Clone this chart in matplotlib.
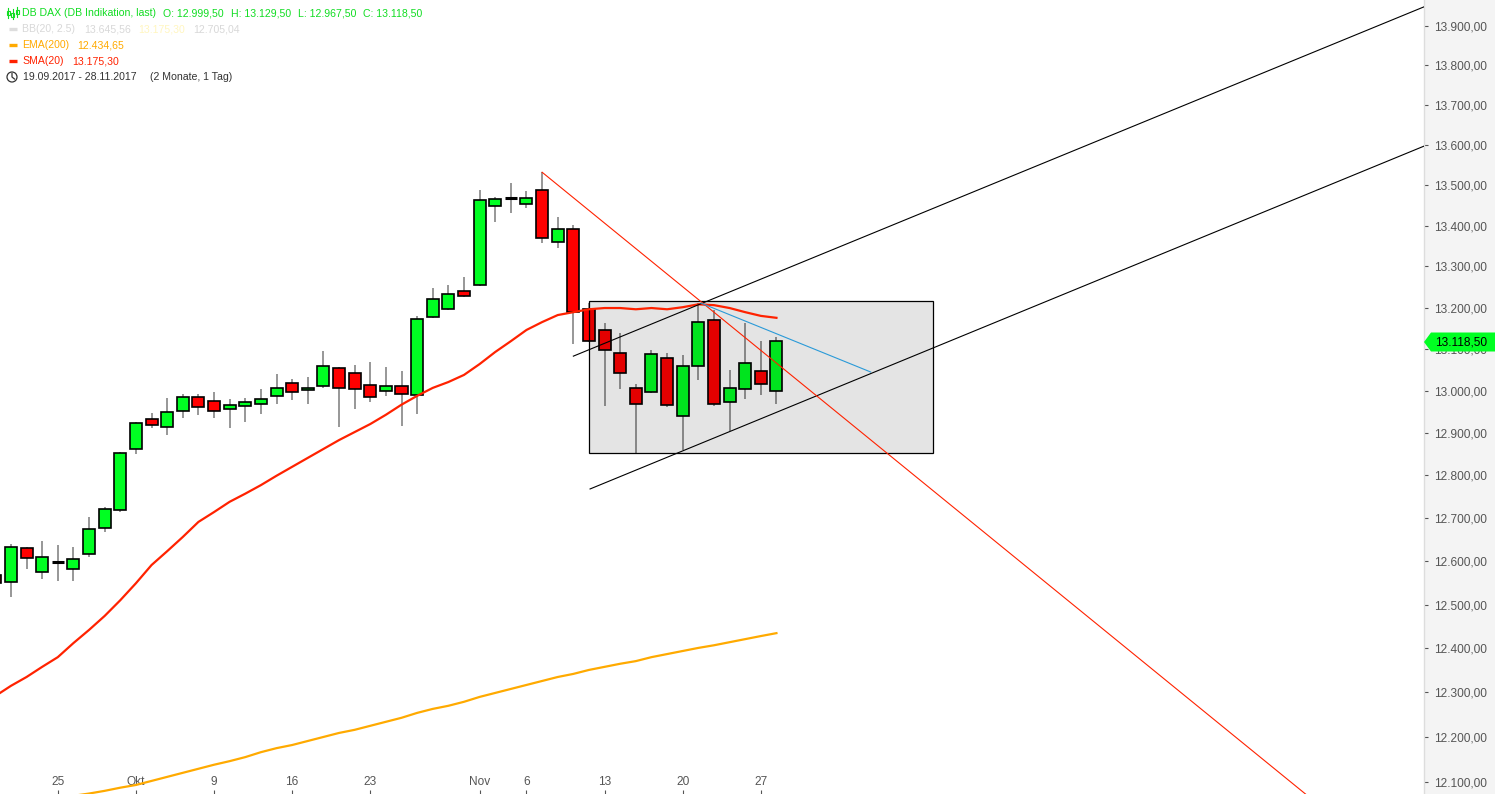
import numpy as np
import pandas as pd
import matplotlib.pyplot as plt
from matplotlib.patches import Rectangle, Polygon, Circle
from matplotlib.lines import Line2D
from matplotlib.ticker import NullLocator, NullFormatter

plt.rcParams['font.family'] = ['Liberation Sans', 'DejaVu Sans']

# --- data (DB DAX daily, 19.09.2017 - 28.11.2017) ---
dates = pd.bdate_range('2017-09-19', '2017-11-28')

opens = [12568, 12552, 12630, 12575, 12598, 12582, 12616, 12677, 12719, 12862,
         12933, 12914, 12952, 12986, 12976, 12957, 12964, 12969, 12988, 13019,
         13002, 13012, 13055, 13043, 13014, 13000, 13012, 12990, 13177, 13196,
         13240, 13255, 13449, 13468, 13454, 13488, 13360, 13392, 13196, 13146,
         13090, 13007, 12998, 13079, 12940, 13060, 13170, 12974, 13005, 13048,
         12999.5]
highs = [12578, 12640, 12633, 12647, 12637, 12633, 12702, 12726, 12855, 12926,
         12948, 12983, 12993, 12993, 12998, 12981, 12983, 13005, 13040, 13029,
         13033, 13095, 13057, 13062, 13069, 13057, 13048, 13180, 13248, 13255,
         13274, 13488, 13471, 13505, 13485, 13532, 13421, 13402, 13212, 13163,
         13139, 13017, 13098, 13090, 13086, 13211, 13194, 13050, 13163, 13120,
         13129.5]
lows = [12540, 12517, 12582, 12559, 12554, 12554, 12609, 12667, 12714, 12851,
        12912, 12895, 12936, 12943, 12936, 12912, 12926, 12945, 12969, 12979,
        12969, 13007, 12914, 12957, 12974, 12988, 12917, 12945, 13175, 13194,
        13226, 13253, 13410, 13432, 13444, 13358, 13346, 13112, 13116, 12964,
        13005, 12853, 12995, 12962, 12860, 13026, 12964, 12905, 12981, 12990,
        12967.5]
closes = [12549, 12633, 12607, 12609, 12598, 12605, 12674, 12721, 12853, 12924,
          12919, 12950, 12986, 12962, 12952, 12967, 12974, 12981, 13007, 12998,
          13007, 13060, 13007, 13005, 12986, 13012, 12993, 13172, 13221, 13233,
          13228, 13463, 13466, 13468, 13468, 13370, 13392, 13189, 13120, 13098,
          13043, 12969, 13088, 12967, 13060, 13165, 12969, 13007, 13067, 13017,
          13118.5]

sma20 = [12292, 12315, 12335, 12358, 12380, 12412, 12442, 12474, 12510, 12549,
         12591, 12623, 12656, 12691, 12714, 12738, 12757, 12777, 12799, 12820,
         12841, 12862, 12883, 12902, 12921, 12943, 12967, 12988, 13007, 13021,
         13038, 13064, 13093, 13119, 13146, 13165, 13182, 13189, 13196, 13199,
         13199, 13196, 13199, 13196, 13201, 13208, 13206, 13199, 13189, 13180,
         13175.3]
ema200 = [12040, 12046, 12052, 12058, 12064, 12069, 12074, 12080, 12087, 12093,
          12102, 12111, 12120, 12129, 12138, 12146, 12155, 12166, 12175, 12182,
          12191, 12200, 12209, 12216, 12225, 12234, 12243, 12254, 12263, 12270,
          12279, 12290, 12299, 12308, 12317, 12326, 12335, 12342, 12351, 12358,
          12365, 12371, 12380, 12387, 12394, 12401, 12407, 12414, 12421, 12428,
          12434.65]

# drawn objects (bar index, price)
channel_upper = [(37.0, 13083), (91.45, 13949)]
channel_lower = [(38.07, 12768), (91.45, 13597)]
red_trend = [(35.0, 13532), (88.25, 11950)]
blue_trend = [(45.17, 13211), (56.03, 13045)]
box_x = (38.0, 60.0)
box_y = (12853, 13215)

tick_dates = ['2017-09-25', '2017-10-02', '2017-10-09', '2017-10-16', '2017-10-23',
              '2017-11-01', '2017-11-06', '2017-11-13', '2017-11-20', '2017-11-27']
tick_labels = ['25', 'Okt', '9', '16', '23', 'Nov', '6', '13', '20', '27']
price_ticks = list(range(12100, 14000, 100))


def de_fmt(v):
    return f"{v:,.2f}".replace(',', 'X').replace('.', ',').replace('X', '.')


W, H = 1495, 794
fig = plt.figure(figsize=(W / 100, H / 100), dpi=100, facecolor='#f4f4f4')
ax = fig.add_axes([0, 0, 1424 / W, 1])
ax.set_facecolor('white')

x = np.arange(len(dates))
o = np.array(opens, dtype=float)
h = np.array(highs, dtype=float)
l = np.array(lows, dtype=float)
c = np.array(closes, dtype=float)

ax.set_yscale('log')

# wicks
ax.vlines(x, l, h, color='#7a7a7a', lw=1.1, zorder=2)

# bodies
doji = np.isclose(o, c)
body = ~doji
lo = np.minimum(o, c)
hi = np.maximum(o, c)
cols = np.where(c >= o, '#00ff22', '#ff0000')
ax.bar(x[body], hi[body] - lo[body], bottom=lo[body], width=0.77,
       color=cols[body], edgecolor='black', linewidth=1.2, zorder=3)
ax.hlines(o[doji], x[doji] - 0.385, x[doji] + 0.385, color='black', lw=2.2, zorder=3)

# indicators
ax.plot(x, ema200, color='#ffaa00', lw=1.6, zorder=5)
ax.plot(x, sma20, color='#ff2200', lw=1.6, zorder=5)

# box
ax.add_patch(Rectangle((box_x[0], box_y[0]), box_x[1] - box_x[0], box_y[1] - box_y[0],
                       facecolor='black', alpha=0.105, edgecolor='none', zorder=4))
ax.add_patch(Rectangle((box_x[0], box_y[0]), box_x[1] - box_x[0], box_y[1] - box_y[0],
                       fill=False, edgecolor='black', lw=0.9, zorder=4))

# trend lines
for pts, col in [(channel_upper, 'black'), (channel_lower, 'black'),
                 (red_trend, '#ff2200'), (blue_trend, '#2a9ad8')]:
    ax.plot([p[0] for p in pts], [p[1] for p in pts], color=col, lw=0.8, zorder=6)

ax.set_xlim(0.3, 91.45)
ax.set_ylim(12073, 13966.5)

# axes styling
for s in ['top', 'left', 'bottom']:
    ax.spines[s].set_visible(False)
ax.spines['right'].set_color('#dddddd')
ax.spines['right'].set_linewidth(1)

ax.yaxis.tick_right()
ax.set_yticks(price_ticks)
ax.set_yticklabels([de_fmt(v) for v in price_ticks])
ax.yaxis.set_minor_locator(NullLocator())
ax.yaxis.set_minor_formatter(NullFormatter())
ax.tick_params(axis='y', direction='out', length=3, width=0.8, colors='#555555',
               pad=4.5, labelsize=8.6)

tick_idx = [int(np.where(dates == pd.Timestamp(d))[0][0]) for d in tick_dates]
ax.set_xticks(tick_idx)
ax.set_xticklabels(tick_labels)
ax.tick_params(axis='x', direction='in', length=3, width=0.8, colors='#555555',
               pad=-13, labelsize=8.6)

# last price marker on axis
tr = fig.dpi_scale_trans
yy = (H - 342) / 100
marker = Polygon([(14.24, yy), (14.31, yy + 0.095), (14.95, yy + 0.095),
                  (14.95, yy - 0.095), (14.31, yy - 0.095)],
                 closed=True, transform=tr, facecolor='#00ff22', edgecolor='none', zorder=10)
fig.add_artist(marker)
fig.text(14.35 / 14.95, yy / 7.94, de_fmt(closes[-1]), fontsize=8.6, color='black',
         va='center', ha='left', zorder=11)


# legend block (top-left)
def ftext(px, py, s, col, **kw):
    fig.text(px / W, 1 - py / H, s, color=col, fontsize=7.6, va='center', ha='left', **kw)


green_txt = '#11dd22'
ftext(22, 13, 'DB DAX (DB Indikation, last)', green_txt)
ftext(163, 13, 'O: 12.999,50', green_txt)
ftext(231, 13, 'H: 13.129,50', green_txt)
ftext(298, 13, 'L: 12.967,50', green_txt)
ftext(363, 13, 'C: 13.118,50', green_txt)

ftext(22, 29, 'BB(20, 2.5)', '#d8d8d8')
ftext(84, 29, '13.645,56', '#d8d8d8')
ftext(138, 29, '13.175,30', '#fff6c0')
ftext(193, 29, '12.705,04', '#d8d8d8')

ftext(22, 45, 'EMA(200)', '#ffaa00')
ftext(77, 45, '12.434,65', '#ffaa00')

ftext(22, 61, 'SMA(20)', '#ff2200')
ftext(72, 61, '13.175,30', '#ff2200')

ftext(23, 77, '19.09.2017 - 28.11.2017', '#333333')
ftext(150, 77, '(2 Monate, 1 Tag)', '#333333')

# legend swatches
for py, col in [(29, '#dddddd'), (45, '#ffaa00'), (61, '#ff2200')]:
    fig.add_artist(Line2D([9 / 100, 17 / 100], [(H - py) / 100] * 2, transform=tr,
                          color=col, lw=2.4, solid_capstyle='butt'))

# candle icon
for cx, y0, y1, b0, b1 in [(8, 8, 18, 11, 15), (12.5, 9, 19, 13, 17), (17, 7, 17, 10, 14)]:
    fig.add_artist(Line2D([cx / 100] * 2, [(H - y0) / 100, (H - y1) / 100], transform=tr,
                          color=green_txt, lw=0.8))
    fig.add_artist(Rectangle(((cx - 1.5) / 100, (H - b1) / 100), 3 / 100, (b1 - b0) / 100,
                             transform=tr, facecolor='white', edgecolor=green_txt, lw=0.8))

# clock icon
fig.add_artist(Circle((12 / 100, (H - 77) / 100), 0.05, transform=tr, fill=False,
                      edgecolor='#333333', lw=0.9))
fig.add_artist(Line2D([12 / 100, 12 / 100, 14.5 / 100],
                      [(H - 73.5) / 100, (H - 77) / 100, (H - 79) / 100],
                      transform=tr, color='#333333', lw=0.9))

fig.savefig('out.png', dpi=100, facecolor=fig.get_facecolor())
